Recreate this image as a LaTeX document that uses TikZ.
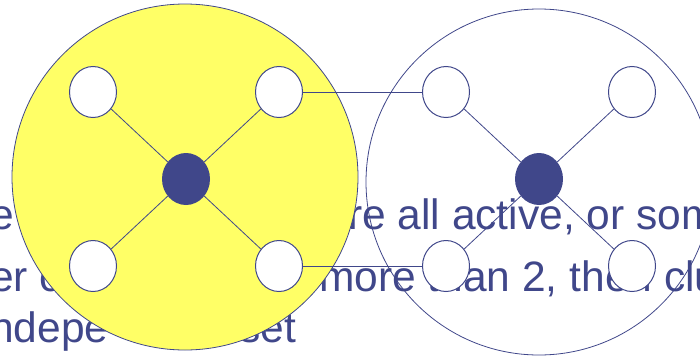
\documentclass[tikz,border=0pt]{standalone}
\usepackage{fontspec}
\setmainfont{Liberation Sans}
\usepackage{xcolor}
\usepackage{tikz}
\usetikzlibrary{shapes.geometric}
\definecolor{ink}{HTML}{40478A}
\definecolor{sun}{HTML}{FFFF66}
\tikzset{
  slidetext/.style={anchor=base west,inner sep=0pt,text=ink,font=\fontsize{42.5}{50}\selectfont},
  clusterdisk/.style={circle,draw=ink,line width=0.8pt,minimum size=346pt,inner sep=0pt},
  memberdot/.style={ellipse,draw=ink,line width=1pt,fill=white,minimum width=47pt,
    minimum height=51pt,inner sep=0pt},
  hubdot/.style={ellipse,fill=ink,minimum width=48pt,minimum height=52pt,inner sep=0pt},
  spoke/.style={draw=ink,line width=0.8pt}
}

\begin{document}
\begin{tikzpicture}[x=1pt,y=-1pt]
\useasboundingbox (0,0) rectangle (700,356);
% slide text underneath
\node[slidetext] (lineAa) at (-10,229) {e};
\node[slidetext] (lineAb) at (348,229) {re all active, or som};
\node[slidetext] (lineBa) at (-10,291) {er c};
\node[slidetext] (lineBb) at (319,291) {more than 2, then clu};
\node[slidetext] (lineCa) at (-10,342) {ndepe};
\node[slidetext] (lineCb) at (239,342) {set};
% the two clusters
\node[clusterdisk,fill=sun] (leftcl) at (185,177) {};
\node[clusterdisk] (rightcl) at (539,182) {};
\node[memberdot] (l1) at (93,92) {};
\node[memberdot] (l2) at (279,92) {};
\node[memberdot] (l3) at (93,266) {};
\node[memberdot] (l4) at (279,266) {};
\node[hubdot] (lhub) at (186,179) {};
\node[memberdot] (r1) at (446,92) {};
\node[memberdot] (r2) at (632,92) {};
\node[memberdot] (r3) at (446,266) {};
\node[memberdot] (r4) at (632,266) {};
\node[hubdot] (rhub) at (539,179) {};
\foreach \m in {l1,l2,l3,l4} \draw[spoke] (lhub) -- (\m);
\foreach \m in {r1,r2,r3,r4} \draw[spoke] (rhub) -- (\m);
% links between the clusters
\draw[spoke] (l2) -- (r1);
\draw[spoke] (l4) -- (r3);
\end{tikzpicture}
\end{document}
